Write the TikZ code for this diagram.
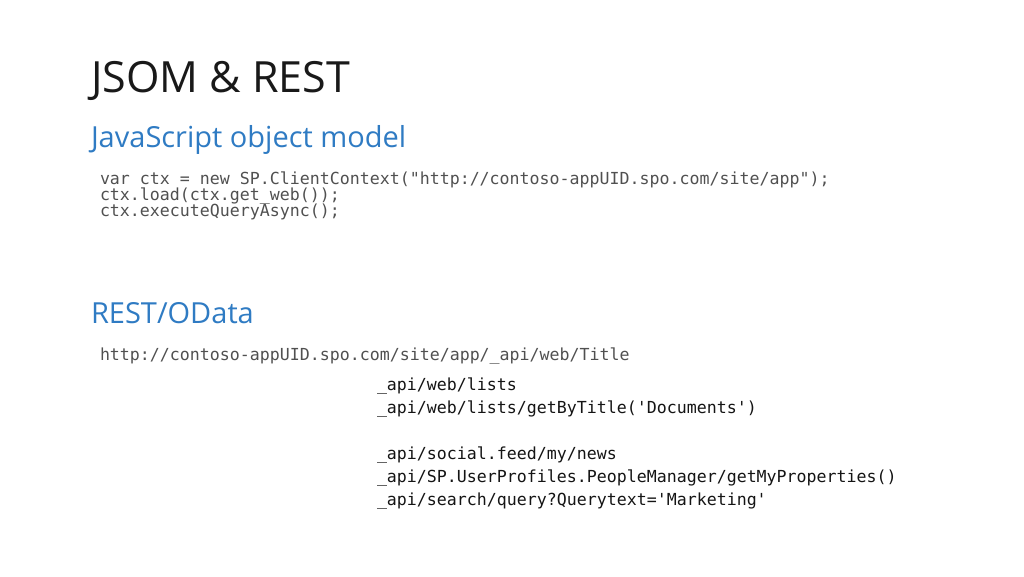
\documentclass[tikz,border=0pt]{standalone}
\usepackage{fontspec}
\setmainfont{Open Sans}
\newfontfamily\codefont{DejaVu Sans Mono}
\definecolor{headblue}{RGB}{47,123,195}
\definecolor{codegray}{RGB}{80,80,80}
\definecolor{apiblack}{RGB}{20,20,20}
\tikzset{
  txt/.style={anchor=base west, inner sep=0pt, outer sep=0pt},
  title/.style={txt, font=\fontsize{43}{48}\selectfont, text=black!90},
  head/.style={txt, font=\fontsize{29}{32}\selectfont, text=headblue},
  code/.style={txt, font=\codefont\fontsize{16.6}{16}\selectfont, text=codegray},
  api/.style={txt, font=\codefont\fontsize{16.6}{20}\selectfont, text=apiblack}
}
\begin{document}
\begin{tikzpicture}[x=1pt,y=-1pt]
\useasboundingbox (0,0) rectangle (1024,576);
\node[title] (t) at (91,92) {JSOM \& REST};
\node[head] (h1) at (91,147) {JavaScript object model};
\node[code] (c1) at (100,184) {var ctx = new SP.ClientContext("http://contoso-appUID.spo.com/site/app");};
\node[code] (c2) at (100,200) {ctx.load(ctx.get\_web());};
\node[code] (c3) at (100,216) {ctx.executeQueryAsync();};
\node[head] (h2) at (91,323) {REST/OData};
\node[code] (u) at (100,360) {http://contoso-appUID.spo.com/site/app/\_api/web/Title};
\node[api] (a1) at (377,390) {\_api/web/lists};
\node[api] (a2) at (377,413) {\_api/web/lists/getByTitle('Documents')};
\node[api] (a3) at (377,459) {\_api/social.feed/my/news};
\node[api] (a4) at (377,482) {\_api/SP.UserProfiles.PeopleManager/getMyProperties()};
\node[api] (a5) at (377,505) {\_api/search/query?Querytext='Marketing'};
\end{tikzpicture}
\end{document}
